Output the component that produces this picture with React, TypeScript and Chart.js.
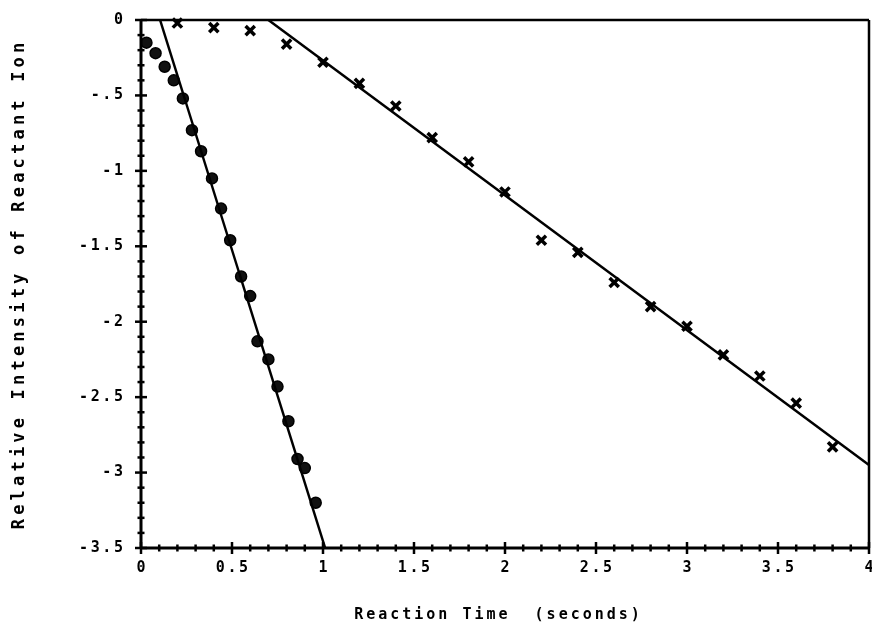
import React, { useEffect, useRef } from 'react';
import { Chart, registerables } from 'chart.js';

Chart.register(...registerables);

// ---- data ----
const circleX = [0.03, 0.08, 0.13, 0.18, 0.23, 0.28, 0.33, 0.39, 0.44, 0.49, 0.55, 0.6, 0.64, 0.7, 0.75, 0.81, 0.86, 0.9, 0.96];
const circleY = [-0.15, -0.22, -0.31, -0.4, -0.52, -0.73, -0.87, -1.05, -1.25, -1.46, -1.7, -1.83, -2.13, -2.25, -2.43, -2.66, -2.91, -2.97, -3.2];

const starX = [0.2, 0.4, 0.6, 0.8, 1.0, 1.2, 1.4, 1.6, 1.8, 2.0, 2.2, 2.4, 2.6, 2.8, 3.0, 3.2, 3.4, 3.6, 3.8];
const starY = [-0.02, -0.05, -0.07, -0.16, -0.28, -0.42, -0.57, -0.78, -0.94, -1.14, -1.46, -1.54, -1.74, -1.9, -2.03, -2.22, -2.36, -2.54, -2.83];

const circleFitX = [0.105, 1.012];
const circleFitY = [0, -3.5];
const starFitX = [0.7, 4.0];
const starFitY = [0, -2.95];

const xTickValues = [0, 0.5, 1, 1.5, 2, 2.5, 3, 3.5, 4];
const xTickLabels = ['0', '0.5', '1', '1.5', '2', '2.5', '3', '3.5', '4'];
const yTickValues = [0, -0.5, -1, -1.5, -2, -2.5, -3, -3.5];
const yTickLabels = ['0', '-.5', '-1', '-1.5', '-2', '-2.5', '-3', '-3.5'];
const minorStep = 0.1;

const xAxisTitle = 'Reaction Time  (seconds)';
const yAxisTitle = 'Relative Intensity of Reactant Ion';

const FONT = '"DejaVu Sans Mono", monospace';

const toPoints = (xs: number[], ys: number[]) => xs.map((x, i) => ({ x, y: ys[i] }));

const frameTicksPlugin = {
  id: 'frameTicks',
  afterDraw(chart: any) {
    const { ctx, chartArea, scales } = chart;
    const { left, right, top, bottom } = chartArea;
    const xs = scales.x;
    const ys = scales.y;
    const seg = (x1: number, y1: number, x2: number, y2: number) => {
      ctx.beginPath();
      ctx.moveTo(x1, y1);
      ctx.lineTo(x2, y2);
      ctx.stroke();
    };
    const setSpacing = (px: number) => {
      try { (ctx as any).letterSpacing = px + 'px'; } catch (e) {}
    };
    ctx.save();
    ctx.strokeStyle = '#000';
    ctx.fillStyle = '#000';
    ctx.lineCap = 'butt';
    // frame
    ctx.lineWidth = 2.5;
    seg(left, top, right, top);
    seg(right, top, right, bottom);
    ctx.lineWidth = 3;
    seg(left, top - 1, left, bottom + 1);
    seg(left, bottom, right, bottom);
    // minor / major tick marks crossing the axes
    const nX = Math.round((xs.max - xs.min) / minorStep);
    for (let i = 0; i <= nX; i++) {
      const px = xs.getPixelForValue(xs.min + i * minorStep);
      const major = i % 5 === 0;
      const len = major ? 6 : 3.5;
      ctx.lineWidth = 2.5;
      seg(px, bottom - len, px, bottom + len);
    }
    const nY = Math.round((ys.max - ys.min) / minorStep);
    for (let i = 0; i <= nY; i++) {
      const py = ys.getPixelForValue(ys.max - i * minorStep);
      const major = i % 5 === 0;
      const len = major ? 6 : 3.5;
      ctx.lineWidth = 2.5;
      seg(left - len, py, left + len, py);
    }
    // tick labels
    const tickSpacing = 2.6;
    ctx.font = 'bold 15px ' + FONT;
    setSpacing(tickSpacing);
    ctx.textBaseline = 'middle';
    ctx.textAlign = 'center';
    xTickValues.forEach((v, i) => {
      ctx.fillText(xTickLabels[i], xs.getPixelForValue(v) + tickSpacing / 2, bottom + 20);
    });
    ctx.textAlign = 'right';
    yTickValues.forEach((v, i) => {
      ctx.fillText(yTickLabels[i], left - 18 + tickSpacing, ys.getPixelForValue(v));
    });
    // x title
    const xtSpacing = 3;
    setSpacing(xtSpacing);
    ctx.textAlign = 'center';
    ctx.font = 'bold 15px ' + FONT;
    ctx.fillText(xAxisTitle, (left + right) / 2 - 8 + xtSpacing / 2, 615);
    // y title
    const ytSpacing = 4.2;
    ctx.translate(20, (top + bottom) / 2 + 2);
    ctx.rotate(-Math.PI / 2);
    ctx.font = 'bold 17px ' + FONT;
    setSpacing(ytSpacing);
    ctx.textAlign = 'center';
    ctx.fillText(yAxisTitle, ytSpacing / 2, 0);
    ctx.restore();
  },
};

export default function App() {
  const canvasRef = useRef<HTMLCanvasElement | null>(null);

  useEffect(() => {
    document.body.style.margin = '0';
    const canvas = canvasRef.current;
    if (!canvas) return;
    const chart = new Chart(canvas, {
      type: 'scatter',
      data: {
        datasets: [
          {
            label: 'circles fit',
            type: 'line',
            data: toPoints(circleFitX, circleFitY),
            borderColor: '#000',
            borderWidth: 2.5,
            pointRadius: 0,
            fill: false,
          },
          {
            label: 'stars fit',
            type: 'line',
            data: toPoints(starFitX, starFitY),
            borderColor: '#000',
            borderWidth: 2.5,
            pointRadius: 0,
            fill: false,
          },
          {
            label: 'circles',
            data: toPoints(circleX, circleY),
            pointStyle: 'circle',
            pointRadius: 5.5,
            pointBackgroundColor: '#111',
            pointBorderColor: '#000',
            pointBorderWidth: 1.5,
          },
          {
            label: 'stars',
            data: toPoints(starX, starY),
            pointStyle: 'crossRot',
            pointRadius: 6.5,
            pointBorderColor: '#000',
            pointBorderWidth: 3.5,
          },
        ],
      },
      options: {
        responsive: false,
        animation: false,
        events: [],
        clip: false as any,
        layout: { autoPadding: false, padding: { left: 0, top: 20, right: 3, bottom: 0 } },
        plugins: {
          legend: { display: false },
          tooltip: { enabled: false },
          title: { display: false },
        },
        scales: {
          x: {
            type: 'linear',
            min: 0,
            max: 4,
            grid: { display: false, drawTicks: false },
            border: { display: false },
            ticks: { display: false },
            title: { display: false, text: xAxisTitle },
            afterFit: (s: any) => {
              s.height = 84;
              s.paddingLeft = 0;
              s.paddingRight = 0;
            },
          },
          y: {
            type: 'linear',
            min: -3.5,
            max: 0,
            grid: { display: false, drawTicks: false },
            border: { display: false },
            ticks: { display: false },
            title: { display: false, text: yAxisTitle },
            afterFit: (s: any) => {
              s.width = 141;
              s.paddingTop = 0;
              s.paddingBottom = 0;
            },
          },
        },
      },
      plugins: [frameTicksPlugin],
    } as any);
    return () => chart.destroy();
  }, []);

  return (
    <div style={{ position: 'absolute', left: 0, top: 0, width: 872, height: 632, background: '#fff' }}>
      <canvas ref={canvasRef} width={872} height={632} style={{ display: 'block' }} />
    </div>
  );
}
